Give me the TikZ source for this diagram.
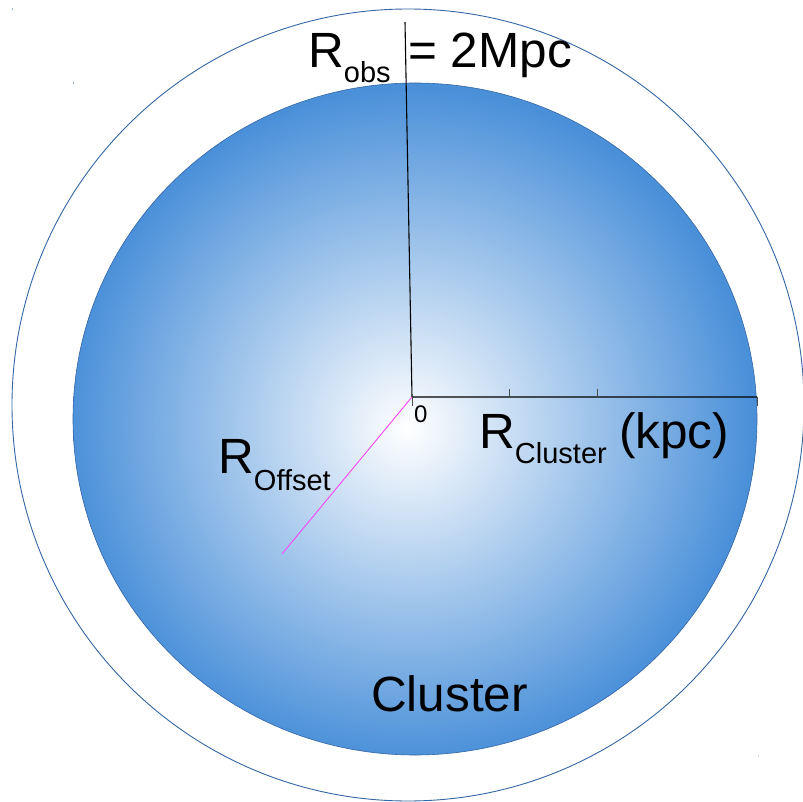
\documentclass[tikz,border=0pt]{standalone}
\usepackage{fontspec}
\setmainfont{Liberation Sans}
\definecolor{clblue}{RGB}{74,144,217}
\definecolor{rimblue}{RGB}{52,101,164}
\definecolor{offmag}{RGB}{250,70,250}
\definecolor{dotblue}{RGB}{150,175,210}
\pgfdeclareradialshading{clustershade}{\pgfpoint{-0.6bp}{-0.7bp}}{color(0bp)=(white); color(25bp)=(clblue); color(50bp)=(clblue)}
\tikzset{
  bigtext/.style={font=\fontsize{49.5}{49.5}\selectfont, inner sep=0pt, anchor=base west},
  smalltext/.style={font=\fontsize{24}{24}\selectfont, inner sep=0pt, anchor=base west},
  axisline/.style={line width=1.1pt, black},
  tickmark/.style={line width=1pt, black!70},
  offline/.style={line width=0.9pt, offmag},
  rim/.style={line width=0.9pt, rimblue},
  speck/.style={fill=dotblue, draw=none},
}
\newcommand{\mysubtxt}[2]{\raisebox{-#1}{\fontsize{29}{29}\selectfont #2}}
\begin{document}
\begin{tikzpicture}[x=1pt,y=-1pt]
\useasboundingbox (0,0) rectangle (803,802);
% outer observation circle
\draw[rim] (408,405) circle[radius=396pt];
% cluster
\shade[shading=clustershade] (415,419) ellipse[x radius=342pt, y radius=336pt];
\draw[rimblue, line width=0.6pt] (415,419) ellipse[x radius=342pt, y radius=336pt];
% specks
\fill[speck] (11.5,8.5) rectangle (13,10);
\fill[speck] (72.5,82.5) rectangle (74,84);
\fill[speck] (757.5,754.5) rectangle (759,756);
% coordinates
\coordinate (O) at (412,397);
\coordinate (Ytop) at (405,22);
\coordinate (Xend) at (757,397);
\coordinate (T1) at (509,397);
\coordinate (T2) at (597,397);
\coordinate (Poff) at (282,554);
% axes
\draw[axisline] (Ytop) -- (O) -- (Xend);
\draw[tickmark] (O) -- ++(0,9);
\draw[tickmark] (T1) -- ++(0,-8);
\draw[tickmark] (T2) -- ++(0,-8);
\draw[tickmark] (Xend) -- ++(0,9);
\draw[offline] (O) -- (Poff);
% labels
\node[bigtext] (robs) at (308,68) {R\mysubtxt{15pt}{obs}};
\node[bigtext] (mpc) at (408,68) {= 2Mpc};
\node[smalltext] (zero) at (414,422) {0};
\node[bigtext] (rcl) at (479,448) {R\mysubtxt{15pt}{Cluster}};
\node[bigtext] (kpc) at (619,448) {(kpc)};
\node[bigtext] (roff) at (218,473) {R\mysubtxt{17pt}{Offset}};
\node[bigtext] (clus) at (371,711) {Cluster};
\end{tikzpicture}
\end{document}
